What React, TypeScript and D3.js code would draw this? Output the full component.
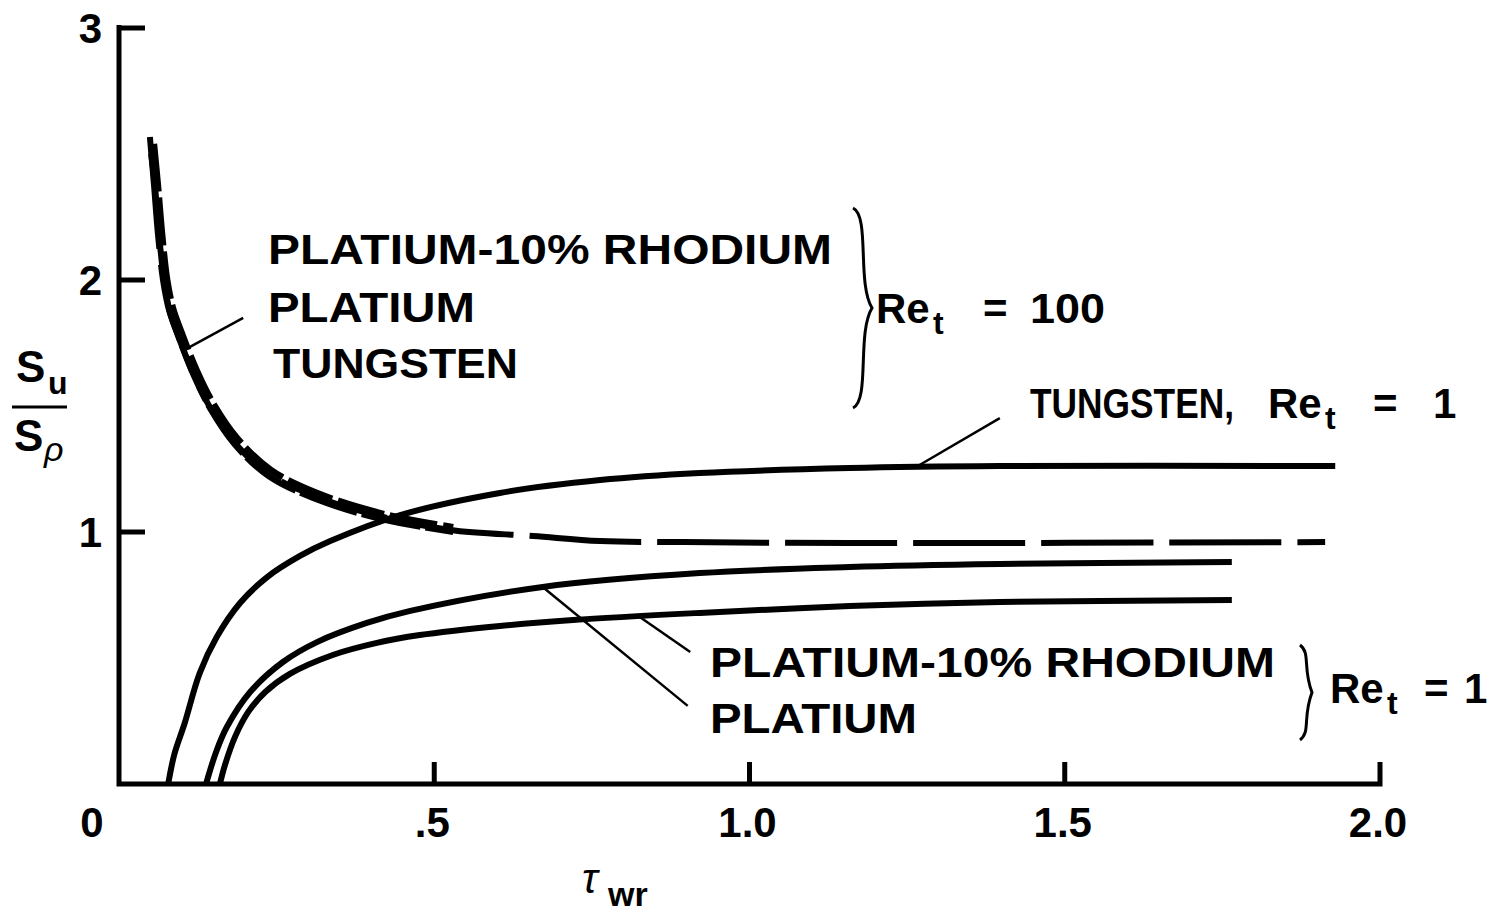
import * as d3 from "d3";

// tau_wr vs Su/Srho
const TUNGSTEN_RE1: [number, number][] = [
  [0.078, 0], [0.088, 0.12], [0.104, 0.24], [0.128, 0.44], [0.155, 0.583], [0.192, 0.718], [0.235, 0.821],
  [0.287, 0.905], [0.335, 0.964], [0.446, 1.067], [0.604, 1.155], [0.763, 1.206], [0.921, 1.234],
  [1.159, 1.254], [1.397, 1.262], [1.929, 1.262],
];
const PLATINUM_RE1: [number, number][] = [
  [0.138, 0], [0.154, 0.127], [0.171, 0.226], [0.208, 0.365], [0.26, 0.484], [0.314, 0.563], [0.393, 0.639],
  [0.462, 0.687], [0.672, 0.782], [0.921, 0.837], [1.159, 0.861], [1.397, 0.873], [1.765, 0.881],
];
const PT_RH_RE1: [number, number][] = [
  [0.16, 0], [0.168, 0.075], [0.184, 0.187], [0.205, 0.286], [0.232, 0.365], [0.271, 0.437], [0.339, 0.512],
  [0.409, 0.56], [0.477, 0.591], [0.604, 0.627], [0.72, 0.651], [0.921, 0.679], [1.159, 0.706],
  [1.397, 0.722], [1.765, 0.73],
];
const TUNGSTEN_RE100: [number, number][] = [
  [0.049, 2.567], [0.0555, 2.377], [0.0619, 2.179], [0.0698, 2.0], [0.0793, 1.881], [0.092, 1.79],
  [0.117, 1.631], [0.144, 1.496], [0.181, 1.361], [0.235, 1.234], [0.314, 1.139], [0.419, 1.06],
  [0.525, 1.008], [0.657, 0.984], [0.763, 0.964], [0.895, 0.96], [1.159, 0.956], [1.913, 0.96],
];
const PLATINUM_RE100: [number, number][] = [
  [0.055, 2.54], [0.0615, 2.37], [0.068, 2.18], [0.076, 2.0], [0.0855, 1.885], [0.098, 1.797], [0.123, 1.64],
  [0.15, 1.506], [0.187, 1.372], [0.241, 1.245], [0.32, 1.148], [0.424, 1.068], [0.53, 1.018],
];
const PT_RH_RE100: [number, number][] = [
  [0.051, 2.5], [0.0575, 2.36], [0.064, 2.165], [0.072, 1.99], [0.081, 1.87], [0.094, 1.778], [0.119, 1.619],
  [0.146, 1.484], [0.183, 1.349], [0.237, 1.222], [0.316, 1.127], [0.421, 1.048], [0.53, 1.0],
];

const X_TICKS = [0, 0.5, 1.0, 1.5, 2.0];
const X_TICK_LABELS = ["0", ".5", "1.0", "1.5", "2.0"];
const Y_TICKS = [1, 2, 3];
const Y_TICK_LABELS = ["1", "2", "3"];

// leader lines, data coords
const LEADERS: [number, number, number, number][] = [
  [0.109, 1.73, 0.197, 1.85],
  [1.267, 1.262, 1.397, 1.452],
  [0.826, 0.663, 0.906, 0.524],
  [0.672, 0.782, 0.902, 0.31],
];

const FONT = "'Liberation Sans', Arial, Helvetica, sans-serif";

function brace(x: number, y0: number, y1: number, w: number) {
  const ym = (y0 + y1) / 2;
  return `M${x},${y0} C${x + w * 0.9},${y0 + 8} ${x + w * 0.2},${ym - 25} ${x + w},${ym}` +
    ` C${x + w * 0.2},${ym + 25} ${x + w * 0.9},${y1 - 8} ${x},${y1}`;
}

export default function App() {
  const W = 1499, H = 922;
  const x = d3.scaleLinear().domain([0, 2]).range([119, 1380]);
  const y = d3.scaleLinear().domain([0, 3]).range([784, 28]);
  const line = d3.line<[number, number]>().x((d) => x(d[0])).y((d) => y(d[1])).curve(d3.curveCatmullRom.alpha(0.5));

  const txt = { fontFamily: FONT, fontWeight: 700, fill: "#000" } as const;

  return (
    <svg width={W} height={H} style={{ position: "absolute", left: 0, top: 0, background: "#fff" }}>
      {/* axes */}
      <path d={`M${x(0)},${y(3) - 3} V${y(0)} H${x(2)} V${y(0) - 22}`} fill="none" stroke="#000" strokeWidth={5} />
      {Y_TICKS.map((t) => (
        <line key={t} x1={x(0)} x2={x(0) + 26} y1={y(t)} y2={y(t)} stroke="#000" strokeWidth={5} />
      ))}
      {X_TICKS.slice(1, 4).map((t) => (
        <line key={t} x1={x(t)} x2={x(t)} y1={y(0)} y2={y(0) - 22} stroke="#000" strokeWidth={5} />
      ))}
      {Y_TICKS.map((t, i) => (
        <text key={t} x={x(0) - 17} y={y(t) + 15} textAnchor="end" fontSize={42} {...txt}>{Y_TICK_LABELS[i]}</text>
      ))}
      {X_TICKS.map((t, i) => (
        <text key={t} x={t === 0 ? x(0) - 27 : x(t) - 2} y={837} textAnchor="middle" fontSize={42} {...txt}>{X_TICK_LABELS[i]}</text>
      ))}

      {/* curves */}
      <g fill="none" stroke="#000" strokeLinecap="butt">
        <path d={line(TUNGSTEN_RE1) ?? ""} strokeWidth={6} />
        <path d={line(PLATINUM_RE1) ?? ""} strokeWidth={6} />
        <path d={line(PT_RH_RE1) ?? ""} strokeWidth={6} />
        <path d={line(PLATINUM_RE100) ?? ""} strokeWidth={7} strokeDasharray="48,6" />
        <path d={line(PT_RH_RE100) ?? ""} strokeWidth={6} strokeDasharray="60,5" />
        <path d={line(TUNGSTEN_RE100) ?? ""} strokeWidth={6} strokeDasharray="112,16" />
      </g>

      {/* leaders */}
      {LEADERS.map((l, i) => (
        <line key={i} x1={x(l[0])} y1={y(l[1])} x2={x(l[2])} y2={y(l[3])} stroke="#000" strokeWidth={2.5} />
      ))}

      {/* braces */}
      <path d={brace(853, 208, 408, 19)} fill="none" stroke="#000" strokeWidth={3} />
      <path d={brace(1300, 645, 740, 12)} fill="none" stroke="#000" strokeWidth={3} />

      {/* Re_t = 100 group */}
      <text x={268} y={264} fontSize={42} textLength={564} lengthAdjust="spacingAndGlyphs" {...txt}>PLATIUM-10% RHODIUM</text>
      <text x={268} y={322} fontSize={42} textLength={207} lengthAdjust="spacingAndGlyphs" {...txt}>PLATIUM</text>
      <text x={273} y={378} fontSize={42} textLength={245} lengthAdjust="spacingAndGlyphs" {...txt}>TUNGSTEN</text>
      <text x={876} y={323} fontSize={42} {...txt}>Re</text>
      <text x={933} y={334} fontSize={32} {...txt}>t</text>
      <text x={983} y={323} fontSize={42} {...txt}>=</text>
      <text x={1030} y={323} fontSize={42} textLength={75} lengthAdjust="spacingAndGlyphs" {...txt}>100</text>

      {/* tungsten Re_t = 1 */}
      <text x={1030} y={418} fontSize={42} textLength={204} lengthAdjust="spacingAndGlyphs" {...txt}>TUNGSTEN,</text>
      <text x={1268} y={418} fontSize={42} {...txt}>Re</text>
      <text x={1325} y={429} fontSize={32} {...txt}>t</text>
      <text x={1373} y={418} fontSize={42} {...txt}>=</text>
      <text x={1433} y={418} fontSize={42} {...txt}>1</text>

      {/* Re_t = 1 group */}
      <text x={710} y={677} fontSize={42} textLength={565} lengthAdjust="spacingAndGlyphs" {...txt}>PLATIUM-10% RHODIUM</text>
      <text x={710} y={733} fontSize={42} textLength={207} lengthAdjust="spacingAndGlyphs" {...txt}>PLATIUM</text>
      <text x={1330} y={703} fontSize={42} {...txt}>Re</text>
      <text x={1387} y={714} fontSize={32} {...txt}>t</text>
      <text x={1424} y={703} fontSize={42} {...txt}>=</text>
      <text x={1464} y={703} fontSize={42} {...txt}>1</text>

      {/* y label */}
      <text x={16} y={382} fontSize={44} {...txt}>S</text>
      <text x={48} y={394} fontSize={32} {...txt}>u</text>
      <line x1={12} x2={67} y1={407} y2={407} stroke="#000" strokeWidth={3} />
      <text x={14} y={451} fontSize={44} {...txt}>S</text>
      <text x={44} y={461} fontSize={34} fontStyle="italic" {...txt} fontWeight={400}>ρ</text>

      {/* x label */}
      <text x={582} y={893} fontSize={42} fontStyle="italic" {...txt} fontWeight={400}>τ</text>
      <text x={608} y={906} fontSize={34} {...txt}>wr</text>
    </svg>
  );
}
